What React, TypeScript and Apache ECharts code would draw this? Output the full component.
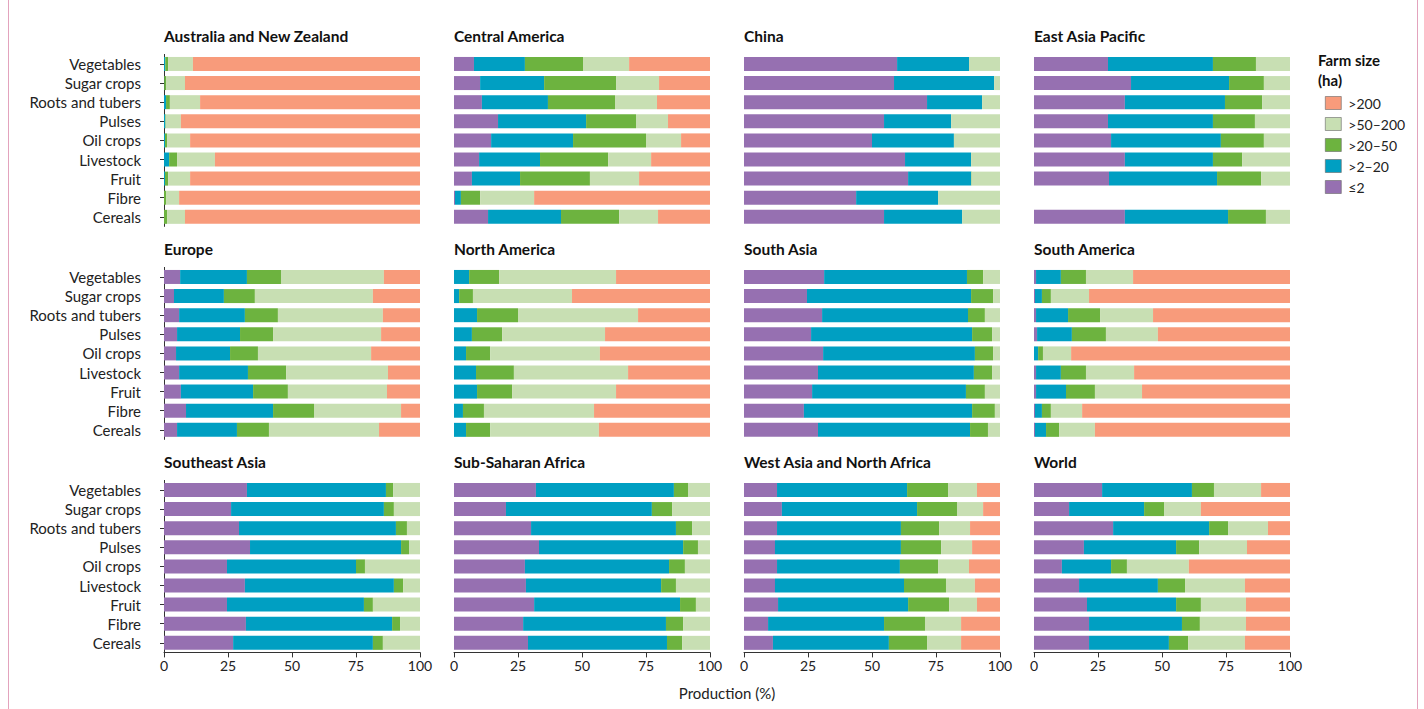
import React, { useEffect, useRef } from "react";
import * as echarts from "echarts";

const categories = ["Vegetables", "Sugar crops", "Roots and tubers", "Pulses", "Oil crops", "Livestock", "Fruit", "Fibre", "Cereals"];
const sizeClasses = ["≤2", ">2–20", ">20–50", ">50–200", ">200"];
const legendOrder = [">200", ">50–200", ">20–50", ">2–20", "≤2"];
const colors = ["#9670b1", "#009fc2", "#6db33f", "#c8dfb3", "#f89b7b"];
const xTicks = [0, 25, 50, 75, 100];

const regions = [
  "Australia and New Zealand", "Central America", "China", "East Asia Pacific",
  "Europe", "North America", "South Asia", "South America",
  "Southeast Asia", "Sub-Saharan Africa", "West Asia and North Africa", "World",
];

// rows follow categories; columns follow sizeClasses (≤2, >2–20, >20–50, >50–200, >200)
const australiaNZ = [
  [0, 0.5, 1.1, 9.7, 88.7], [0, 0.1, 0.7, 7.4, 91.8], [0, 0.8, 1.5, 11.8, 85.9],
  [0, 0.5, 0.2, 5.9, 93.4], [0, 0.4, 0.8, 9.0, 89.8], [0, 2.0, 3.1, 14.8, 80.1],
  [0, 0.4, 1.2, 8.6, 89.8], [0, 0, 0.8, 5.1, 94.1], [0, 0, 1.2, 7.0, 91.8],
];
const centralAmerica = [
  [7.8, 19.9, 22.7, 18.0, 31.6], [10.2, 25.0, 28.1, 16.8, 19.9], [10.9, 25.8, 26.2, 16.4, 20.7],
  [17.2, 34.4, 19.5, 12.5, 16.4], [14.5, 32.0, 28.5, 13.7, 11.3], [9.8, 23.8, 26.6, 16.8, 23.0],
  [7.0, 18.8, 27.3, 19.2, 27.7], [0.4, 2.3, 7.5, 21.1, 68.7], [13.3, 28.5, 22.7, 15.2, 20.3],
];
const china = [
  [59.8, 28.1, 0, 12.1, 0], [58.6, 39.1, 0, 2.3, 0], [71.5, 21.5, 0, 7.0, 0],
  [54.7, 26.2, 0, 19.1, 0], [50.0, 32.0, 0, 18.0, 0], [62.9, 25.8, 0, 11.3, 0],
  [64.1, 24.6, 0.2, 11.1, 0], [43.8, 32.0, 0, 24.2, 0], [54.7, 30.5, 0, 14.8, 0],
];
const eastAsiaPacific = [
  [28.9, 41.0, 16.8, 13.3, 0], [37.9, 38.3, 13.6, 10.2, 0], [35.5, 39.1, 14.5, 10.9, 0],
  [28.9, 41.0, 16.4, 13.7, 0], [30.1, 42.9, 16.8, 10.2, 0], [35.5, 34.4, 11.4, 18.7, 0],
  [29.3, 42.2, 17.2, 11.3, 0], [null, null, null, null, null], [35.5, 40.3, 14.8, 9.4, 0],
];
const europe = [
  [6.3, 26.1, 13.3, 40.2, 14.1], [3.9, 19.5, 12.1, 46.1, 18.4], [5.9, 25.7, 12.9, 41.0, 14.5],
  [5.1, 24.6, 12.9, 42.2, 15.2], [4.7, 21.1, 10.9, 44.2, 19.1], [5.9, 26.9, 14.9, 39.8, 12.5],
  [6.6, 28.2, 13.6, 38.7, 12.9], [8.6, 34.0, 16.0, 34.0, 7.4], [5.1, 23.4, 12.5, 43.0, 16.0],
];
const northAmerica = [
  [0, 5.9, 11.7, 45.7, 36.7], [0, 2.0, 5.4, 38.7, 53.9], [0, 9.0, 16.0, 46.9, 28.1],
  [0, 7.0, 11.8, 40.2, 41.0], [0, 4.7, 9.4, 42.9, 43.0], [0, 8.6, 14.8, 44.6, 32.0],
  [0, 9.0, 13.7, 40.6, 36.7], [0, 3.5, 8.2, 43.0, 45.3], [0, 4.7, 9.4, 42.5, 43.4],
];
const southAsia = [
  [31.3, 55.8, 6.3, 6.6, 0], [24.6, 64.1, 8.6, 2.7, 0], [30.5, 57.0, 6.6, 5.9, 0],
  [26.2, 62.9, 7.8, 3.1, 0], [30.9, 59.3, 7.1, 2.7, 0], [28.9, 60.9, 7.1, 3.1, 0],
  [26.6, 60.1, 7.4, 5.9, 0], [23.4, 65.7, 8.9, 2.0, 0], [28.9, 59.4, 7.0, 4.7, 0],
];
const southAmerica = [
  [0.8, 9.7, 9.8, 18.4, 61.3], [0.4, 2.7, 3.5, 14.9, 78.5], [0.8, 12.5, 12.5, 20.7, 53.5],
  [1.2, 13.6, 13.3, 20.3, 51.6], [0, 1.6, 1.9, 11.0, 85.5], [0.8, 9.7, 9.8, 18.8, 60.9],
  [0.8, 11.7, 11.3, 18.4, 57.8], [0.4, 2.7, 3.5, 12.2, 81.2], [0.4, 4.3, 5.1, 14.0, 76.2],
];
const southeastAsia = [
  [32.4, 54.3, 2.8, 10.5, 0], [26.2, 59.7, 3.9, 10.2, 0], [29.3, 61.3, 4.3, 5.1, 0],
  [33.6, 59.0, 3.1, 4.3, 0], [24.6, 50.4, 3.5, 21.5, 0], [31.6, 58.2, 3.6, 6.6, 0],
  [24.6, 53.5, 3.5, 18.4, 0], [32.0, 57.1, 3.1, 7.8, 0], [27.0, 54.6, 3.9, 14.5, 0],
];
const subSaharanAfrica = [
  [32.0, 53.9, 5.5, 8.6, 0], [20.3, 57.0, 7.9, 14.8, 0], [30.1, 56.6, 6.3, 7.0, 0],
  [33.2, 56.3, 5.8, 4.7, 0], [27.7, 56.3, 6.2, 9.8, 0], [28.1, 52.8, 5.8, 13.3, 0],
  [31.3, 57.0, 6.2, 5.5, 0], [27.0, 55.8, 6.7, 10.5, 0], [28.9, 54.3, 5.9, 10.9, 0],
];
const westAsiaNorthAfrica = [
  [12.9, 50.8, 16.0, 11.3, 9.0], [14.8, 52.8, 15.6, 10.2, 6.6], [12.9, 48.4, 14.9, 12.1, 11.7],
  [12.1, 49.2, 15.7, 12.1, 10.9], [12.9, 48.0, 14.9, 12.1, 12.1], [12.1, 50.4, 16.4, 11.3, 9.8],
  [13.3, 50.8, 16.0, 10.9, 9.0], [9.4, 45.3, 16.0, 14.1, 15.2], [11.3, 45.3, 14.9, 13.3, 15.2],
];
const world = [
  [26.6, 35.1, 8.6, 18.4, 11.3], [13.7, 29.3, 7.8, 14.4, 34.8], [30.9, 37.5, 7.4, 15.6, 8.6],
  [19.5, 36.0, 9.0, 18.7, 16.8], [10.9, 19.2, 6.2, 24.2, 39.5], [17.6, 30.8, 10.6, 23.4, 17.6],
  [20.7, 34.8, 9.7, 17.6, 17.2], [21.5, 36.3, 7.0, 18.0, 17.2], [21.5, 31.2, 7.5, 22.2, 17.6],
];

const regionData = [
  australiaNZ, centralAmerica, china, eastAsiaPacific,
  europe, northAmerica, southAsia, southAmerica,
  southeastAsia, subSaharanAfrica, westAsiaNorthAfrica, world,
];

const FONT = "Lato, 'Open Sans', sans-serif";

export default function App() {
  const ref = useRef<HTMLDivElement>(null);

  useEffect(() => {
    document.body.style.margin = "0";
    if (!ref.current) return;
    const chart = echarts.init(ref.current, null, { renderer: "svg" });

    const colLeft = [164, 454, 744, 1034];
    const rowTop = [54.4, 267.4, 480.4];
    const gw = 256;
    const gh = 172;

    const grids: any[] = [];
    const xAxes: any[] = [];
    const yAxes: any[] = [];
    const series: any[] = [];
    const graphics: any[] = [];

    regions.forEach((name, i) => {
      const r = Math.floor(i / 4);
      const c = i % 4;
      grids.push({ left: colLeft[c], top: rowTop[r], width: gw, height: gh, containLabel: false });
      const bottomRow = r === 2;
      xAxes.push({
        gridIndex: i,
        type: "value",
        min: 0,
        max: 100,
        interval: 25,
        show: bottomRow,
        splitLine: { show: false },
        axisLine: { show: true, lineStyle: { color: "#333", width: 1 } },
        axisTick: { show: true, length: 5, lineStyle: { color: "#333" } },
        axisLabel: {
          show: true,
          fontFamily: FONT,
          fontSize: 14,
          color: "#222",
          margin: 6,
          formatter: (v: number) => (xTicks.includes(v) ? String(v) : ""),
        },
      });
      const firstCol = c === 0;
      yAxes.push({
        gridIndex: i,
        type: "category",
        data: categories,
        inverse: true,
        offset: 13,
        show: firstCol,
        axisLine: { show: true, lineStyle: { color: "#333", width: 1 } },
        axisTick: { show: true, alignWithLabel: true, interval: 0, length: 4, lineStyle: { color: "#333" } },
        axisLabel: { show: true, interval: 0, fontFamily: FONT, fontSize: 15, color: "#222", margin: 10 },
        splitLine: { show: false },
      });
      const rows = regionData[i];
      sizeClasses.forEach((sc, k) => {
        series.push({
          type: "bar",
          name: sc,
          stack: "s" + i,
          xAxisIndex: i,
          yAxisIndex: i,
          barWidth: 14,
          itemStyle: { color: colors[k] },
          data: rows.map((row) => (row[k] === null ? "-" : row[k])),
        });
      });
      graphics.push({
        type: "text",
        x: colLeft[c],
        y: rowTop[r] - 18.5,
        style: {
          text: name,
          font: `bold 15.5px ${FONT}`,
          fill: "#111",
          align: "left",
          verticalAlign: "middle",
        },
      });
    });

    graphics.push({
      type: "text",
      x: 727,
      y: 693,
      style: { text: "Production (%)", font: `15px ${FONT}`, fill: "#222", align: "center", verticalAlign: "middle" },
    });
    graphics.push({
      type: "text",
      x: 1318,
      y: 60,
      style: { text: "Farm size", font: `bold 15px ${FONT}`, fill: "#111", align: "left", verticalAlign: "middle" },
    });
    graphics.push({
      type: "text",
      x: 1318,
      y: 80,
      style: { text: "(ha)", font: `bold 15px ${FONT}`, fill: "#111", align: "left", verticalAlign: "middle" },
    });
    graphics.push({
      type: "rect",
      shape: { x: 8.5, y: -10, width: 1409, height: 730 },
      style: { fill: "none", stroke: "#e3a3bd", lineWidth: 1 },
      silent: true,
    });

    chart.setOption({
      animation: false,
      backgroundColor: "#ffffff",
      grid: grids,
      xAxis: xAxes,
      yAxis: yAxes,
      series,
      legend: {
        data: legendOrder,
        orient: "vertical",
        left: 1320,
        top: 91,
        itemWidth: 16,
        itemHeight: 13,
        itemGap: 7,
        icon: "rect",
        selectedMode: false,
        itemStyle: { borderColor: "#666", borderWidth: 0.6 },
        textStyle: { fontFamily: FONT, fontSize: 14, color: "#222", padding: [0, 0, 0, 2] },
      },
      graphic: graphics,
    });

    return () => chart.dispose();
  }, []);

  return <div ref={ref} style={{ width: 1424, height: 709 }} />;
}
